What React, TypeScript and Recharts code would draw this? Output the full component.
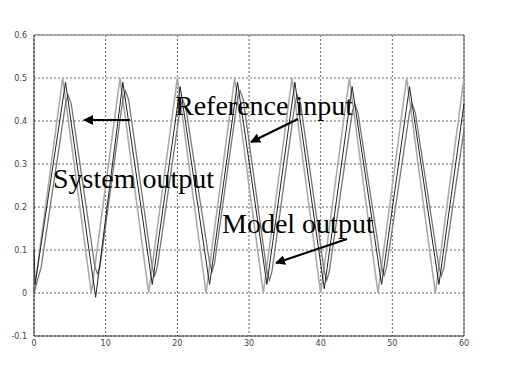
import { CartesianGrid, Line, LineChart, ReferenceLine, XAxis, YAxis } from 'recharts';

// vertices (time, value)
const refT = [0, 4, 8, 12, 16, 20, 24, 28, 32, 36, 40, 44, 48, 52, 56, 60];
const refV = [0, 0.5, 0, 0.5, 0, 0.5, 0, 0.5, 0, 0.5, 0, 0.5, 0, 0.5, 0, 0.5];

const sysT = [0, 0.15, 4.4, 8.6, 12.4, 16.5, 20.4, 24.5, 28.4, 32.5, 36.4, 40.5, 44.4, 48.5, 52.4, 56.5, 60];
const sysV = [0.1, 0.02, 0.49, -0.01, 0.49, 0.02, 0.48, 0.02, 0.49, 0.02, 0.49, 0.01, 0.48, 0.02, 0.48, 0.02, 0.44];

const modelT = [
    0, 1.0, 4.4, 4.75, 5.2, 8.5, 8.85, 9.2, 12.4, 12.75, 13.2, 16.5, 16.85, 17.2, 20.4, 20.75, 21.2, 24.5, 24.85, 25.2,
    28.4, 28.75, 29.2, 32.5, 32.85, 33.2, 36.4, 36.75, 37.2, 40.5, 40.85, 41.2, 44.4, 44.75, 45.2, 48.5, 48.85, 49.2,
    52.4, 52.75, 53.2, 56.5, 56.85, 57.2, 60,
];
const modelV = [
    0, 0.06, 0.44, 0.46, 0.44, 0.06, 0.045, 0.06, 0.45, 0.47, 0.45, 0.06, 0.04, 0.06, 0.43, 0.45, 0.43, 0.07, 0.05, 0.07,
    0.45, 0.47, 0.45, 0.05, 0.03, 0.05, 0.44, 0.46, 0.44, 0.05, 0.03, 0.05, 0.42, 0.44, 0.42, 0.06, 0.04, 0.06,
    0.42, 0.44, 0.42, 0.06, 0.04, 0.06, 0.38,
];

const xTicks = [0, 10, 20, 30, 40, 50, 60];
const yTicks = [-0.1, 0, 0.1, 0.2, 0.3, 0.4, 0.5, 0.6];

const refData = refT.map((t, i) => ({ t, v: refV[i] }));
const sysData = sysT.map((t, i) => ({ t, v: sysV[i] }));
const modelData = modelT.map((t, i) => ({ t, v: modelV[i] }));

const tickStyle = { fontSize: 8, fill: '#444', fontFamily: 'DejaVu Sans, sans-serif' };
const labelStyle = { fontFamily: '"Liberation Serif", "Times New Roman", serif', fontSize: 28, fill: '#000' };

export default function App() {
    return (
        <div style={{ position: 'fixed', left: 0, top: 0, width: 509, height: 372, background: '#fff' }}>
            <LineChart width={509} height={372} margin={{ top: 35, right: 45, left: 0, bottom: 16 }}>
                <CartesianGrid stroke="#666" strokeDasharray="2 2" />
                <XAxis
                    type="number"
                    dataKey="t"
                    domain={[0, 60]}
                    ticks={xTicks}
                    tick={tickStyle}
                    tickLine={false}
                    tickSize={0}
                    tickMargin={4}
                    height={20}
                    axisLine={{ stroke: '#333' }}
                    allowDuplicatedCategory={false}
                />
                <YAxis
                    type="number"
                    domain={[-0.1, 0.6]}
                    ticks={yTicks}
                    tick={tickStyle}
                    tickLine={false}
                    tickSize={0}
                    tickMargin={7}
                    width={34}
                    axisLine={{ stroke: '#333' }}
                    tickFormatter={(v) => String(v)}
                />
                <ReferenceLine y={0.6} stroke="#999" strokeWidth={1.5} />
                <ReferenceLine x={60} stroke="#555" />
                <Line data={refData} dataKey="v" type="linear" stroke="#aaa" strokeWidth={1.6} dot={false} isAnimationActive={false} />
                <Line data={modelData} dataKey="v" type="linear" stroke="#777" strokeWidth={1.3} dot={false} isAnimationActive={false} />
                <Line data={sysData} dataKey="v" type="linear" stroke="#222" strokeWidth={1} dot={false} isAnimationActive={false} />
            </LineChart>
            <svg width={509} height={372} style={{ position: 'absolute', left: 0, top: 0, pointerEvents: 'none' }}>
                <defs>
                    <marker id="head" viewBox="0 0 10 10" refX="9" refY="5" markerWidth="5" markerHeight="5" orient="auto">
                        <path d="M0,0 L10,5 L0,10 z" fill="#000" />
                    </marker>
                </defs>
                <text x={175} y={115} {...labelStyle}>Reference input</text>
                <text x={53} y={188} {...labelStyle}>System output</text>
                <text x={222} y={233} {...labelStyle}>Model output</text>
                <line x1={130} y1={120} x2={84} y2={120} stroke="#000" strokeWidth={2} markerEnd="url(#head)" />
                <line x1={298} y1={119} x2={251} y2={142} stroke="#000" strokeWidth={2} markerEnd="url(#head)" />
                <line x1={347} y1={239} x2={276} y2={263} stroke="#000" strokeWidth={2} markerEnd="url(#head)" />
            </svg>
        </div>
    );
}
